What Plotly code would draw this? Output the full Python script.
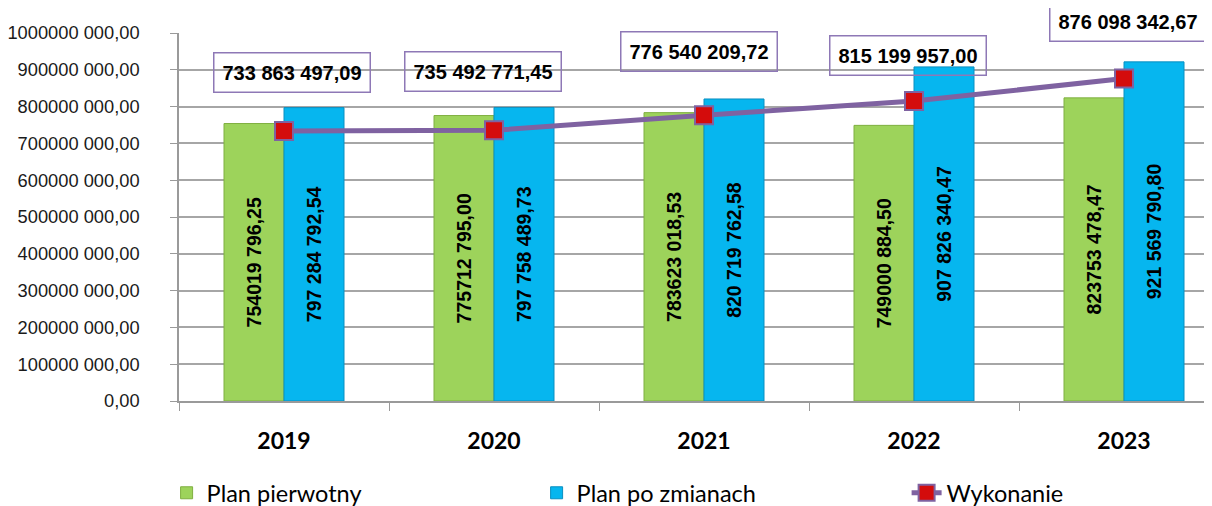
import plotly.graph_objects as go

years = ["2019", "2020", "2021", "2022", "2023"]
plan_pierwotny = [754019796.25, 775712795.00, 783623018.53, 749000884.50, 823753478.47]
plan_po_zmianach = [797284792.54, 797758489.73, 820719762.58, 907826340.47, 921569790.80]
wykonanie = [733863497.09, 735492771.45, 776540209.72, 815199957.00, 876098342.67]

labels_pierwotny = ["754019 796,25", "775712 795,00", "783623 018,53", "749000 884,50", "823753 478,47"]
labels_zmiany = ["797 284 792,54", "797 758 489,73", "820 719 762,58", "907 826 340,47", "921 569 790,80"]
labels_wykonanie = ["733 863 497,09", "735 492 771,45", "776 540 209,72", "815 199 957,00", "876 098 342,67"]

y_tickvals = [0, 1e8, 2e8, 3e8, 4e8, 5e8, 6e8, 7e8, 8e8, 9e8, 1e9]
y_ticktext = ["0,00", "100000 000,00", "200000 000,00", "300000 000,00", "400000 000,00",
              "500000 000,00", "600000 000,00", "700000 000,00", "800000 000,00",
              "900000 000,00", "1000000 000,00"]

# style-only offsets for the value boxes (pixels)
box_yshift = [58, 59, 64, 46, 57]
box_xshift = [8, -11, -5, -6, 4]

BOLD = "Liberation Sans, Arial"

fig = go.Figure()
fig.add_trace(go.Bar(
    x=years, y=plan_pierwotny, name="Plan pierwotny",
    text=labels_pierwotny, textposition="inside", textangle=-90,
    insidetextanchor="middle",
    textfont=dict(family=BOLD, size=19.5, color="black", weight="bold"),
    marker=dict(color="#9DD35B", line=dict(color="#7FAF40", width=1)),
))
fig.add_trace(go.Bar(
    x=years, y=plan_po_zmianach, name="Plan po zmianach",
    text=labels_zmiany, textposition="inside", textangle=-90,
    insidetextanchor="middle",
    textfont=dict(family=BOLD, size=19.5, color="black", weight="bold"),
    marker=dict(color="#06B6EF", line=dict(color="#0A8FC0", width=1)),
))
fig.add_trace(go.Scatter(
    x=years, y=wykonanie, name="Wykonanie", mode="lines+markers",
    line=dict(color="#7F62A1", width=5),
    marker=dict(symbol="square", size=18, color="#D40C0C",
                line=dict(color="#7F62A1", width=2)),
))

for i, (v, t) in enumerate(zip(wykonanie, labels_wykonanie)):
    fig.add_annotation(
        x=i, y=v, xref="x", yref="y", text=t,
        showarrow=False, yshift=box_yshift[i], xshift=box_xshift[i],
        font=dict(family=BOLD, size=20, color="black", weight="bold"),
        bordercolor="#8E78B6", borderwidth=1.5, borderpad=8,
    )

fig.update_layout(
    width=1204, height=498,
    margin=dict(l=171, r=0, t=25, b=105, autoexpand=False),
    paper_bgcolor="white", plot_bgcolor="white",
    barmode="group", bargap=0.4286, bargroupgap=0,
    uniformtext=dict(minsize=19.5, mode="show"),
    showlegend=True,
    legend=dict(orientation="h", x=-0.012, xanchor="left", y=-0.25, yanchor="middle",
                entrywidth=325, entrywidthmode="pixels",
                font=dict(family="Lato, Liberation Sans", size=23.5, color="black")),
    font=dict(family="Liberation Sans, Arial", color="#1a1a1a"),
)
fig.update_xaxes(
    type="category", range=[-0.5, 4.419],
    showline=True, linecolor="#9A9A9A", linewidth=1.5,
    ticks="outside", ticklen=8, tickcolor="#9A9A9A", tickson="boundaries",
    tickfont=dict(family="Lato, Liberation Sans", size=23, color="black", weight="bold"),
    ticklabelstandoff=19, automargin=False,
    showgrid=False,
)
fig.update_yaxes(
    range=[0, 1e9], tickvals=y_tickvals, ticktext=y_ticktext,
    showline=True, linecolor="#9A9A9A", linewidth=1.5,
    showgrid=True, gridcolor="#A6A6A6", gridwidth=1.5,
    ticks="outside", ticklen=7, tickcolor="#9A9A9A",
    tickfont=dict(family="Liberation Sans, Arial", size=18.3, color="#1a1a1a"),
    ticklabelstandoff=27, automargin=False,
    zeroline=False,
)

fig.write_html("out.html")
